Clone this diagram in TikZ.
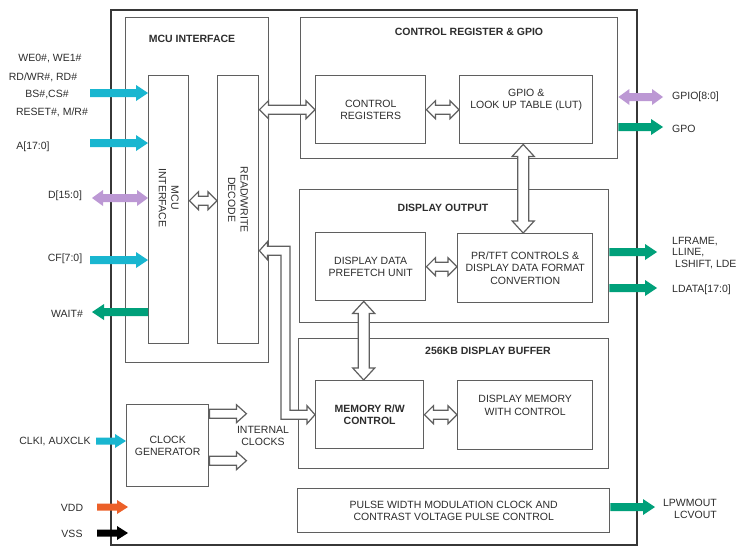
\documentclass[tikz,border=0pt]{standalone}
\usepackage{fontspec}
\setmainfont{Liberation Sans}
\usetikzlibrary{calc}
\definecolor{lc}{RGB}{95,95,95}
\definecolor{chipc}{RGB}{55,55,55}
\definecolor{cy}{RGB}{25,182,208}
\definecolor{pu}{RGB}{188,152,212}
\definecolor{gr}{RGB}{0,160,122}
\definecolor{orr}{RGB}{236,96,40}
\definecolor{tx}{RGB}{45,45,45}
% #1 style, #2 left tip, #3 right tip, #4 head length, #5 head half width, #6 shaft half width
\newcommand\dblH[6]{\path[#1] (#2) -- ($(#2)+(#4,-#5)$) -- ($(#2)+(#4,-#6)$) -- ($(#3)+(-#4,-#6)$) -- ($(#3)+(-#4,-#5)$) -- (#3) -- ($(#3)+(-#4,#5)$) -- ($(#3)+(-#4,#6)$) -- ($(#2)+(#4,#6)$) -- ($(#2)+(#4,#5)$) -- cycle;}
\newcommand\dblV[6]{\path[#1] (#2) -- ($(#2)+(-#5,#4)$) -- ($(#2)+(-#6,#4)$) -- ($(#3)+(-#6,-#4)$) -- ($(#3)+(-#5,-#4)$) -- (#3) -- ($(#3)+(#5,-#4)$) -- ($(#3)+(#6,-#4)$) -- ($(#2)+(#6,#4)$) -- ($(#2)+(#5,#4)$) -- cycle;}
\newcommand\sglR[6]{\path[#1] ($(#2)+(0,-#6)$) -- ($(#3)+(-#4,-#6)$) -- ($(#3)+(-#4,-#5)$) -- (#3) -- ($(#3)+(-#4,#5)$) -- ($(#3)+(-#4,#6)$) -- ($(#2)+(0,#6)$) -- cycle;}
\newcommand\sglL[6]{\path[#1] ($(#2)+(0,-#6)$) -- ($(#3)+(#4,-#6)$) -- ($(#3)+(#4,-#5)$) -- (#3) -- ($(#3)+(#4,#5)$) -- ($(#3)+(#4,#6)$) -- ($(#2)+(0,#6)$) -- cycle;}
\tikzset{
  chip/.style={draw=chipc, line width=2.4pt, inner sep=0pt, anchor=north west},
  cont/.style={draw=lc, line width=1.4pt, inner sep=0pt, anchor=north west},
  blk/.style={draw=lc, line width=1.4pt, inner sep=0pt, anchor=north west, align=center},
  ttl/.style={font=\bfseries\fontsize{10.5}{12.5}\selectfont, inner sep=0pt},
  txt/.style={align=center, inner sep=0pt},
  lbl/.style={inner sep=0pt},
  hollow/.style={draw=lc, fill=white, line width=1.2pt, line join=miter},
}
\begin{document}
\begin{tikzpicture}[x=1pt, y=-1pt, font=\fontsize{10.5}{12.5}\selectfont, text=tx]
\useasboundingbox (0,0) rectangle (736,546);
\fill[white] (0,0) rectangle (736,546);

% ---------- boxes ----------
\node[chip, minimum width=526, minimum height=535] (chip) at (110,9) {};
\node[cont, minimum width=143, minimum height=345] (mcuc) at (125,17) {};
\node[blk, minimum width=40, minimum height=268] (mcu) at (148,75) {};
\node[blk, minimum width=41, minimum height=268] (rw) at (217,75) {};
\node[cont, minimum width=317, minimum height=141] (crg) at (300,17) {};
\node[blk, minimum width=110, minimum height=68] (cr) at (315,75) {CONTROL\\REGISTERS};
\node[blk, minimum width=133, minimum height=68] (gpio) at (459,75) {};
\node[cont, minimum width=309, minimum height=133] (dout) at (299,189) {};
\node[blk, minimum width=110, minimum height=68] (pf) at (315,232) {DISPLAY DATA\\PREFETCH UNIT};
\node[blk, minimum width=135, minimum height=69] (tft) at (457,233) {PR/TFT CONTROLS \&\\DISPLAY DATA FORMAT\\CONVERTION};
\node[cont, minimum width=310, minimum height=130] (buf) at (298,338) {};
\node[blk, minimum width=108, minimum height=68, font=\bfseries\fontsize{10.5}{12.5}\selectfont] (mrw) at (315,380) {MEMORY R/W\\CONTROL};
\node[blk, minimum width=135, minimum height=69] (dm) at (457,380) {};
\node[blk, minimum width=312, minimum height=44] (pwm) at (297,488) {PULSE WIDTH MODULATION CLOCK AND\\CONTRAST VOLTAGE PULSE CONTROL};
\node[blk, minimum width=82, minimum height=82] (clk) at (126,404) {CLOCK\\GENERATOR};

% texts placed off-centre
\node[txt] (gpiot) at ($(gpio.center)+(0,-10)$) {GPIO \&\\LOOK UP TABLE (LUT)};
\node[txt] (dmt) at ($(dm.center)+(0,-10)$) {DISPLAY MEMORY\\WITH CONTROL};
\node[txt, rotate=-90] (mcut) at ($(mcu.center)+(0,-12)$) {MCU\\INTERFACE};
\node[txt, rotate=-90] (rwt) at ($(rw.center)+(0,-10)$) {READ/WRITE\\DECODE};
\node[txt] (ict) at (263,436) {INTERNAL\\CLOCKS};

% titles
\node[ttl] (mcuT) at (192,39) {MCU INTERFACE};
\node[ttl] (crgT) at (469,32) {CONTROL REGISTER \& GPIO};
\node[ttl] (doT) at (443,208) {DISPLAY OUTPUT};
\node[ttl] (bufT) at (488,351) {256KB DISPLAY BUFFER};

% ---------- hollow arrows ----------
\coordinate (h1a) at (rw.east |- cr.west);
\dblH{hollow}{h1a}{cr.west}{9}{9}{4.5}
\dblH{hollow}{cr.east}{gpio.west}{9}{9}{4.5}
\coordinate (v1a) at ([xshift=-3pt]gpio.south);
\coordinate (v1b) at (v1a |- tft.north);
\dblV{hollow}{v1a}{v1b}{12}{11}{5.5}
\coordinate (h4b) at (tft.west |- pf.east);
\dblH{hollow}{pf.east}{h4b}{9}{9}{4.5}
\coordinate (v2a) at ([xshift=-7pt]pf.south);
\coordinate (v2b) at (v2a |- mrw.north);
\dblV{hollow}{v2a}{v2b}{12}{11}{5.5}
\coordinate (h6b) at (dm.west |- mrw.east);
\dblH{hollow}{mrw.east}{h6b}{9}{9}{4.5}
\coordinate (h7a) at ([yshift=9pt]mcu.east);
\coordinate (h7b) at (h7a -| rw.west);
\dblH{hollow}{h7a}{h7b}{9}{9}{4.5}
\coordinate (k1a) at ([yshift=32pt]clk.east);
\coordinate (k1b) at ($(k1a)+(37,0)$);
\sglR{hollow}{k1a}{k1b}{10}{9}{4.5}
\coordinate (k2a) at ([yshift=-15pt]clk.east);
\coordinate (k2b) at ($(k2a)+(37,0)$);
\sglR{hollow}{k2a}{k2b}{10}{9}{4.5}
% elbow arrow READ/WRITE DECODE <-> MEMORY R/W CONTROL
\coordinate (e1) at ([yshift=-41pt]rw.east);
\coordinate (ec1) at ($(e1)+(26,0)$);
\coordinate (e2) at (mrw.west);
\coordinate (ec2) at (ec1 |- e2);
\path[hollow] (e1) -- ($(e1)+(8,-9)$) -- ($(e1)+(8,-4.5)$) -- ($(ec1)+(4.5,-4.5)$) -- ($(ec2)+(4.5,-4.5)$) -- ($(e2)+(-8,-4.5)$) -- ($(e2)+(-8,-9)$) -- (e2) -- ($(e2)+(-8,9)$) -- ($(e2)+(-8,4.5)$) -- ($(ec2)+(-4.5,4.5)$) -- ($(ec1)+(-4.5,4.5)$) -- ($(e1)+(8,4.5)$) -- ($(e1)+(8,9)$) -- cycle;

% ---------- coloured signal arrows ----------
\coordinate (i1) at (90,93);  \coordinate (i1t) at (i1 -| mcu.west);
\sglR{fill=cy}{i1}{i1t}{12}{8}{4}
\coordinate (i2) at (90,143); \coordinate (i2t) at (i2 -| mcu.west);
\sglR{fill=cy}{i2}{i2t}{12}{8}{4}
\coordinate (i3) at (92,198); \coordinate (i3t) at (i3 -| mcu.west);
\dblH{fill=pu}{i3}{i3t}{11}{8}{4}
\coordinate (i4) at (90,260); \coordinate (i4t) at (i4 -| mcu.west);
\sglR{fill=cy}{i4}{i4t}{12}{8}{4}
\coordinate (i5) at (92,312); \coordinate (i5s) at (i5 -| mcu.west);
\sglL{fill=gr}{i5s}{i5}{12}{8}{4}
\coordinate (i6) at (96,441); \coordinate (i6t) at (i6 -| clk.west);
\sglR{fill=cy}{i6}{i6t}{11}{7}{3.5}
\coordinate (i7) at (97,507); \coordinate (i7t) at (128,507);
\sglR{fill=orr}{i7}{i7t}{11}{7}{3.5}
\coordinate (i8) at (97,533); \coordinate (i8t) at (128,533);
\sglR{fill=black}{i8}{i8t}{11}{7}{3.5}

\coordinate (o1) at (crg.east |- 0,97);  \coordinate (o1t) at (663,97);
\dblH{fill=pu}{o1}{o1t}{11}{8}{4}
\coordinate (o2) at (crg.east |- 0,127); \coordinate (o2t) at (663,127);
\sglR{fill=gr}{o2}{o2t}{12}{8}{4}
\coordinate (o3) at (dout.east |- 0,252); \coordinate (o3t) at (657,252);
\sglR{fill=gr}{o3}{o3t}{12}{8}{4}
\coordinate (o4) at (dout.east |- 0,288); \coordinate (o4t) at (657,288);
\sglR{fill=gr}{o4}{o4t}{12}{8}{4}
\coordinate (o5) at (pwm.east |- 0,507); \coordinate (o5t) at (655,507);
\sglR{fill=gr}{o5}{o5t}{12}{8}{4}

% ---------- pin labels ----------
\node[lbl] (l1a) at (50,59) {WE0\#, WE1\#};
\node[lbl] (l1b) at (43,77) {RD/WR\#, RD\#};
\node[lbl] (l1c) at (47,95) {BS\#,CS\#};
\node[lbl] (l1d) at (52,112) {RESET\#, M/R\#};
\node[lbl] (l2) at (33,147) {A[17:0]};
\node[lbl] (l3) at (65,196) {D[15:0]};
\node[lbl] (l4) at (65,259) {CF[7:0]};
\node[lbl] (l5) at (67,314) {WAIT\#};
\node[lbl] (l6) at (55,442) {CLKI, AUXCLK};
\node[lbl] (l7) at (72,508) {VDD};
\node[lbl] (l8) at (72,534) {VSS};

\node[lbl, anchor=west] (r1) at (672,97) {GPIO[8:0]};
\node[lbl, anchor=west] (r2) at (672,129) {GPO};
\node[lbl, anchor=west, align=left, font=\fontsize{10.5}{11.5}\selectfont] (r3) at (672,253) {LFRAME,\\LLINE,\\\hspace*{3pt}LSHIFT, LDE};
\node[lbl, anchor=west] (r4) at (672,290) {LDATA[17:0]};
\node[lbl, anchor=east, align=right] (r5) at (717,509) {LPWMOUT\\LCVOUT};
\end{tikzpicture}
\end{document}
